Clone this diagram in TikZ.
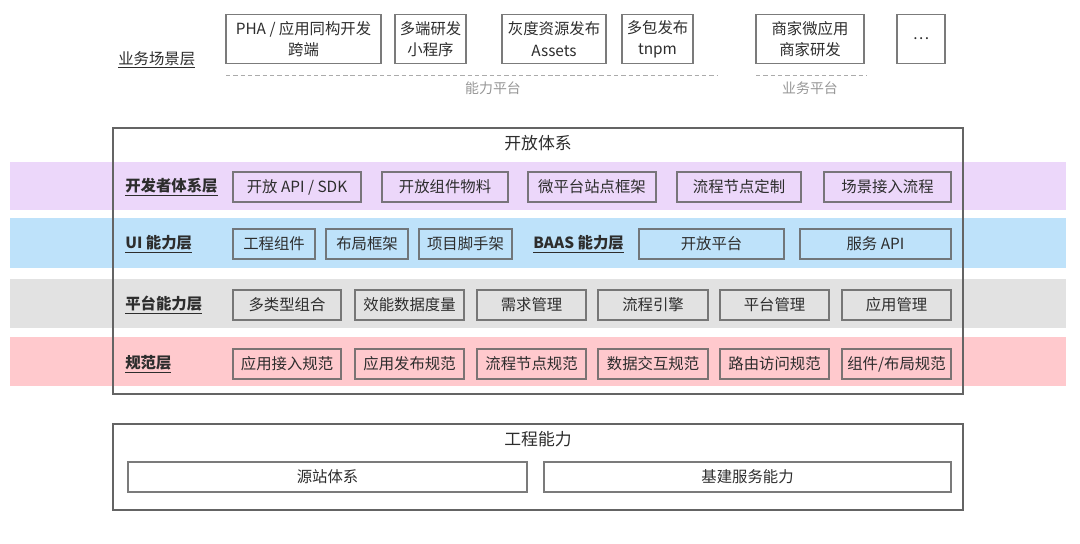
\documentclass[tikz,border=0pt]{standalone}
\usepackage{fontspec}
\setmainfont{Noto Sans CJK SC}
\usetikzlibrary{positioning}
\definecolor{DevPurple}{RGB}{236,215,250}
\definecolor{UiBlue}{RGB}{190,226,250}
\definecolor{PlatGray}{RGB}{226,226,226}
\definecolor{SpecPink}{RGB}{255,201,205}
\definecolor{LineGray}{RGB}{100,100,100}
\definecolor{TextGray}{RGB}{45,45,45}
\definecolor{NoteGray}{RGB}{150,150,150}

\begin{document}
\begin{tikzpicture}[x=0.024cm, y=-0.024cm,
  every node/.style={font=\fontsize{10.5}{13}\selectfont, text=TextGray, inner sep=0pt},
  box/.style={draw=LineGray, draw opacity=0.85, line width=0.8pt, minimum height=0.72cm},
  topbox/.style={box, minimum height=1.17cm, align=center, font=\fontsize{10.5}{14.5}\selectfont},
  lay/.style={anchor=west, font=\fontsize{10.5}{13}\selectfont\bfseries},
  note/.style={text=NoteGray, font=\fontsize{9.5}{11}\selectfont},
  dashline/.style={NoteGray!80, line width=0.6pt, dash pattern=on 3pt off 2pt}]
  \useasboundingbox (0,0) rectangle (1080,544);

  % business scenarios
  \node[anchor=west] (biz) at (118,60) {\underline{业务场景层}};
  \foreach \n/\a/\b/\t in {pha/226/381/{PHA / 应用同构开发\\跨端},
      multi/395/466/{多端研发\\小程序}, gray/502/606/{灰度资源发布\\Assets},
      tnpm/622/693/{多包发布\\tnpm}, merchant/756/864/{商家微应用\\商家研发},
      more/897/945/{\dots}}
    \node[topbox, minimum width={(\b-\a)*0.024cm}] (\n) at ({(\a+\b)/2},39) {\t};
  \draw[dashline] (226,75) -- (718,75);
  \draw[dashline] (756,75) -- (866,75);
  \node[note] (cap) at (493,88) {能力平台};
  \node[note] (bizplat) at (810,88) {业务平台};

  % colour bands
  \fill[DevPurple] (10,162) rectangle (1066,210);
  \fill[UiBlue]    (10,218) rectangle (1066,268);
  \fill[PlatGray]  (10,279) rectangle (1066,328);
  \fill[SpecPink]  (10,337) rectangle (1066,386);

  % open system
  \draw[LineGray, line width=0.8pt] (113,128) rectangle (963,394);
  \node[font=\fontsize{11.5}{13}\selectfont] (open) at (538,143) {开放体系};

  \node[lay] (dev) at (125,187) {\underline{开发者体系层}};
  \foreach \n/\a/\b/\t in {d1/233/361/{开放 API / SDK}, d2/382/508/{开放组件物料},
      d3/528/656/{微平台站点框架}, d4/677/801/{流程节点定制}, d5/824/951/{场景接入流程}}
    \node[box, minimum width={(\b-\a)*0.024cm}] (\n) at ({(\a+\b)/2},187) {\t};

  \node[lay] (ui) at (125,244) {\underline{UI 能力层}};
  \node[lay] (baas) at (533,244) {\underline{BAAS 能力层}};
  \foreach \n/\a/\b/\t in {u1/233/315/{工程组件}, u2/326/408/{布局框架},
      u3/419/512/{项目脚手架}, u4/639/784/{开放平台}, u5/800/951/{服务 API}}
    \node[box, minimum width={(\b-\a)*0.024cm}] (\n) at ({(\a+\b)/2},244) {\t};

  \node[lay] (plat) at (125,305) {\underline{平台能力层}};
  \foreach \n/\a/\b/\t in {p1/233/341/{多类型组合}, p2/355/464/{效能数据度量},
      p3/477/586/{需求管理}, p4/598/708/{流程引擎}, p5/720/829/{平台管理},
      p6/842/951/{应用管理}}
    \node[box, minimum width={(\b-\a)*0.024cm}] (\n) at ({(\a+\b)/2},305) {\t};

  \node[lay] (spec) at (125,364) {\underline{规范层}};
  \foreach \n/\a/\b/\t in {s1/233/341/{应用接入规范}, s2/355/464/{应用发布规范},
      s3/477/586/{流程节点规范}, s4/598/708/{数据交互规范}, s5/720/829/{路由访问规范},
      s6/842/951/{组件/布局规范}}
    \node[box, minimum width={(\b-\a)*0.024cm}] (\n) at ({(\a+\b)/2},364) {\t};

  % engineering
  \draw[LineGray, line width=0.8pt] (113,424) rectangle (963,510);
  \node[font=\fontsize{11.5}{13}\selectfont] (eng) at (538,439) {工程能力};
  \node[box, minimum width={(527-128)*0.024cm}] (origin) at ({(128+527)/2},477) {源站体系};
  \node[box, minimum width={(951-544)*0.024cm}] (infra) at ({(544+951)/2},477) {基建服务能力};
\end{tikzpicture}
\end{document}
